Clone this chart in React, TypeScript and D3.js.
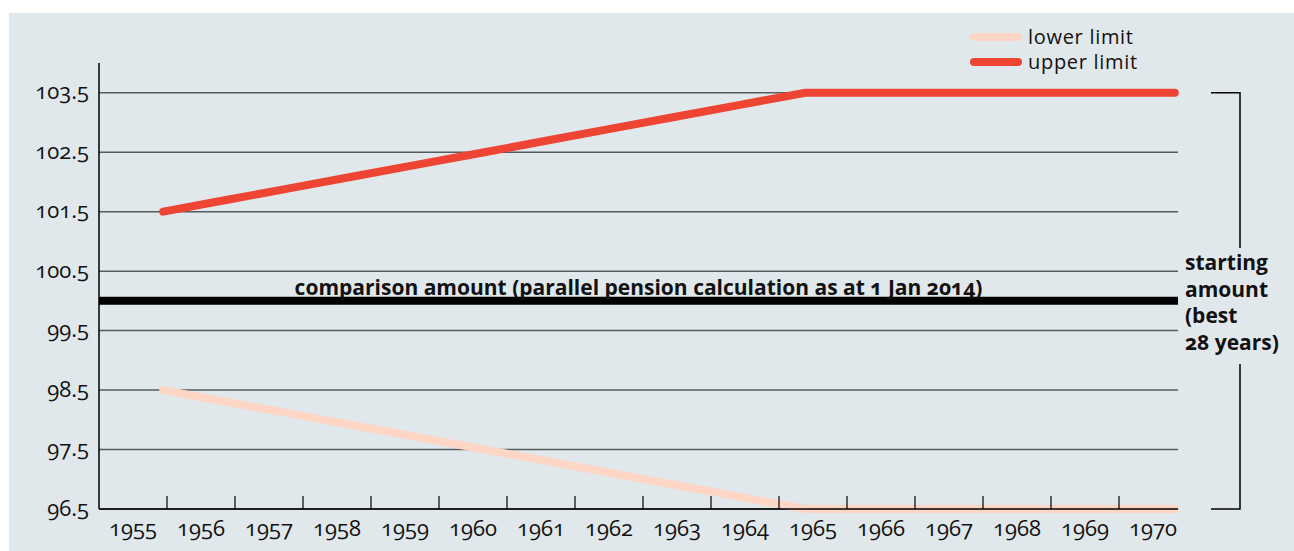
import React, { useEffect, useRef } from 'react';
import * as d3 from 'd3';

const years = ['1955', '1956', '1957', '1958', '1959', '1960', '1961', '1962', '1963', '1964', '1965', '1966', '1967', '1968', '1969', '1970'];
const lineYears = [1955, 1956, 1957, 1958, 1959, 1960, 1961, 1962, 1963, 1964, 1965, 1966, 1967, 1968, 1969, 1970];
const upperLimit = [101.5, 101.7, 101.9, 102.1, 102.3, 102.5, 102.7, 102.9, 103.1, 103.3, 103.5, 103.5, 103.5, 103.5, 103.5, 103.5];
const lowerLimit = [98.5, 98.3, 98.1, 97.9, 97.7, 97.5, 97.3, 97.1, 96.9, 96.7, 96.5, 96.5, 96.5, 96.5, 96.5, 96.5];
const yTicks = [96.5, 97.5, 98.5, 99.5, 100.5, 101.5, 102.5, 103.5];
const comparisonValue = 100;
const comparisonLabel = 'comparison amount (parallel pension calculation as at 1 Jan 2014)';
const legendItems = [
  { label: 'lower limit', color: '#fdd6c5' },
  { label: 'upper limit', color: '#ee4433' },
];
const sideLabel = ['starting', 'amount', '(best', '28 years)'];

const W = 1294;
const H = 551;
const FONT = '"Open Sans", "Noto Sans", sans-serif';

function Chart() {
  const ref = useRef<SVGSVGElement>(null);

  useEffect(() => {
    const svg = d3.select(ref.current);
    svg.selectAll('*').remove();

    const left = 99, right = 1178, top = 63, bottom = 509;

    const x = d3.scaleBand().domain(years).range([left, left + 68 * years.length]).padding(0);
    const lx = d3.scaleLinear().domain([1954, 1970.8]).range([left, right]);
    const y = d3.scaleLinear().domain([96.5, 104]).range([bottom, top]);

    svg.append('rect').attr('x', 9).attr('y', 13).attr('width', W - 9).attr('height', H - 13).attr('fill', '#e1e8eb');

    // gridlines
    svg.append('g').selectAll('line').data(yTicks).enter().append('line')
      .attr('x1', left).attr('x2', right)
      .attr('y1', d => y(d)).attr('y2', d => y(d))
      .attr('stroke', '#565b5f').attr('stroke-width', 1.5);

    // y labels
    svg.append('g').selectAll('text').data(yTicks).enter().append('text')
      .attr('x', 89).attr('y', d => y(d)).attr('dy', '0.3em')
      .attr('text-anchor', 'end')
      .style('font-family', FONT).style('font-size', '22px')
      .style('font-variant-numeric', 'oldstyle-nums')
      .attr('fill', '#111')
      .text(d => d.toFixed(1));

    // comparison line
    svg.append('line')
      .attr('x1', left).attr('x2', right)
      .attr('y1', y(comparisonValue)).attr('y2', y(comparisonValue))
      .attr('stroke', '#000').attr('stroke-width', 8);
    svg.append('text')
      .attr('x', (left + right) / 2).attr('y', y(comparisonValue) - 6)
      .attr('text-anchor', 'middle')
      .style('font-family', FONT).style('font-size', '21px').style('font-weight', 700)
      .style('font-variant-numeric', 'oldstyle-nums')
      .attr('fill', '#111')
      .text(comparisonLabel);

    // limit lines
    const line = d3.line<[number, number]>().x(d => lx(d[0])).y(d => y(d[1]));
    const ext = lx.domain()[1] - 0.05;
    const series = [
      { values: lowerLimit, color: legendItems[0].color },
      { values: upperLimit, color: legendItems[1].color },
    ];
    series.forEach(s => {
      const pts: [number, number][] = lineYears.map((yr, i) => [yr, s.values[i]]);
      pts.push([ext, s.values[s.values.length - 1]]);
      svg.append('path').attr('d', line(pts))
        .attr('fill', 'none').attr('stroke', s.color)
        .attr('stroke-width', 8).attr('stroke-linecap', 'round').attr('stroke-linejoin', 'round');
    });

    // axes
    svg.append('line').attr('x1', left).attr('x2', left).attr('y1', top).attr('y2', bottom)
      .attr('stroke', '#000').attr('stroke-width', 1.5);
    svg.append('line').attr('x1', left).attr('x2', right).attr('y1', bottom).attr('y2', bottom)
      .attr('stroke', '#000').attr('stroke-width', 1.5);
    svg.append('g').selectAll('line').data(years.slice(1)).enter().append('line')
      .attr('x1', d => x(d)!).attr('x2', d => x(d)!)
      .attr('y1', bottom).attr('y2', bottom - 13)
      .attr('stroke', '#000').attr('stroke-width', 1.2);
    svg.append('g').selectAll('text').data(years).enter().append('text')
      .attr('x', d => x(d)! + x.bandwidth() / 2).attr('y', 536)
      .attr('text-anchor', 'middle')
      .style('font-family', FONT).style('font-size', '22px')
      .style('font-variant-numeric', 'oldstyle-nums')
      .attr('fill', '#111')
      .text(d => d);

    // legend
    const lg = svg.append('g');
    legendItems.forEach((it, i) => {
      const ly = 37 + i * 25;
      lg.append('line').attr('x1', 974).attr('x2', 1018).attr('y1', ly).attr('y2', ly)
        .attr('stroke', it.color).attr('stroke-width', 8).attr('stroke-linecap', 'round');
      lg.append('text').attr('x', 1028).attr('y', ly).attr('dy', '0.35em')
        .style('font-family', FONT).style('font-size', '20px').style('letter-spacing', '0.7px')
        .attr('fill', '#111').text(it.label);
    });

    // bracket
    const bx = 1240;
    svg.append('path')
      .attr('d', `M1211,${y(103.5)}H${bx}V248`)
      .attr('fill', 'none').attr('stroke', '#000').attr('stroke-width', 1.5);
    svg.append('path')
      .attr('d', `M${bx},364V${y(96.5)}H1211`)
      .attr('fill', 'none').attr('stroke', '#000').attr('stroke-width', 1.5);
    sideLabel.forEach((t, i) => {
      svg.append('text').attr('x', 1185).attr('y', 270 + i * 26.5)
        .style('font-family', FONT).style('font-size', '21px').style('font-weight', 700)
        .style('font-variant-numeric', 'oldstyle-nums')
        .attr('fill', '#111').text(t);
    });
  }, []);

  return <svg ref={ref} width={W} height={H} style={{ position: 'absolute', left: 0, top: 0 }} />;
}

export default function App() {
  return <Chart />;
}
